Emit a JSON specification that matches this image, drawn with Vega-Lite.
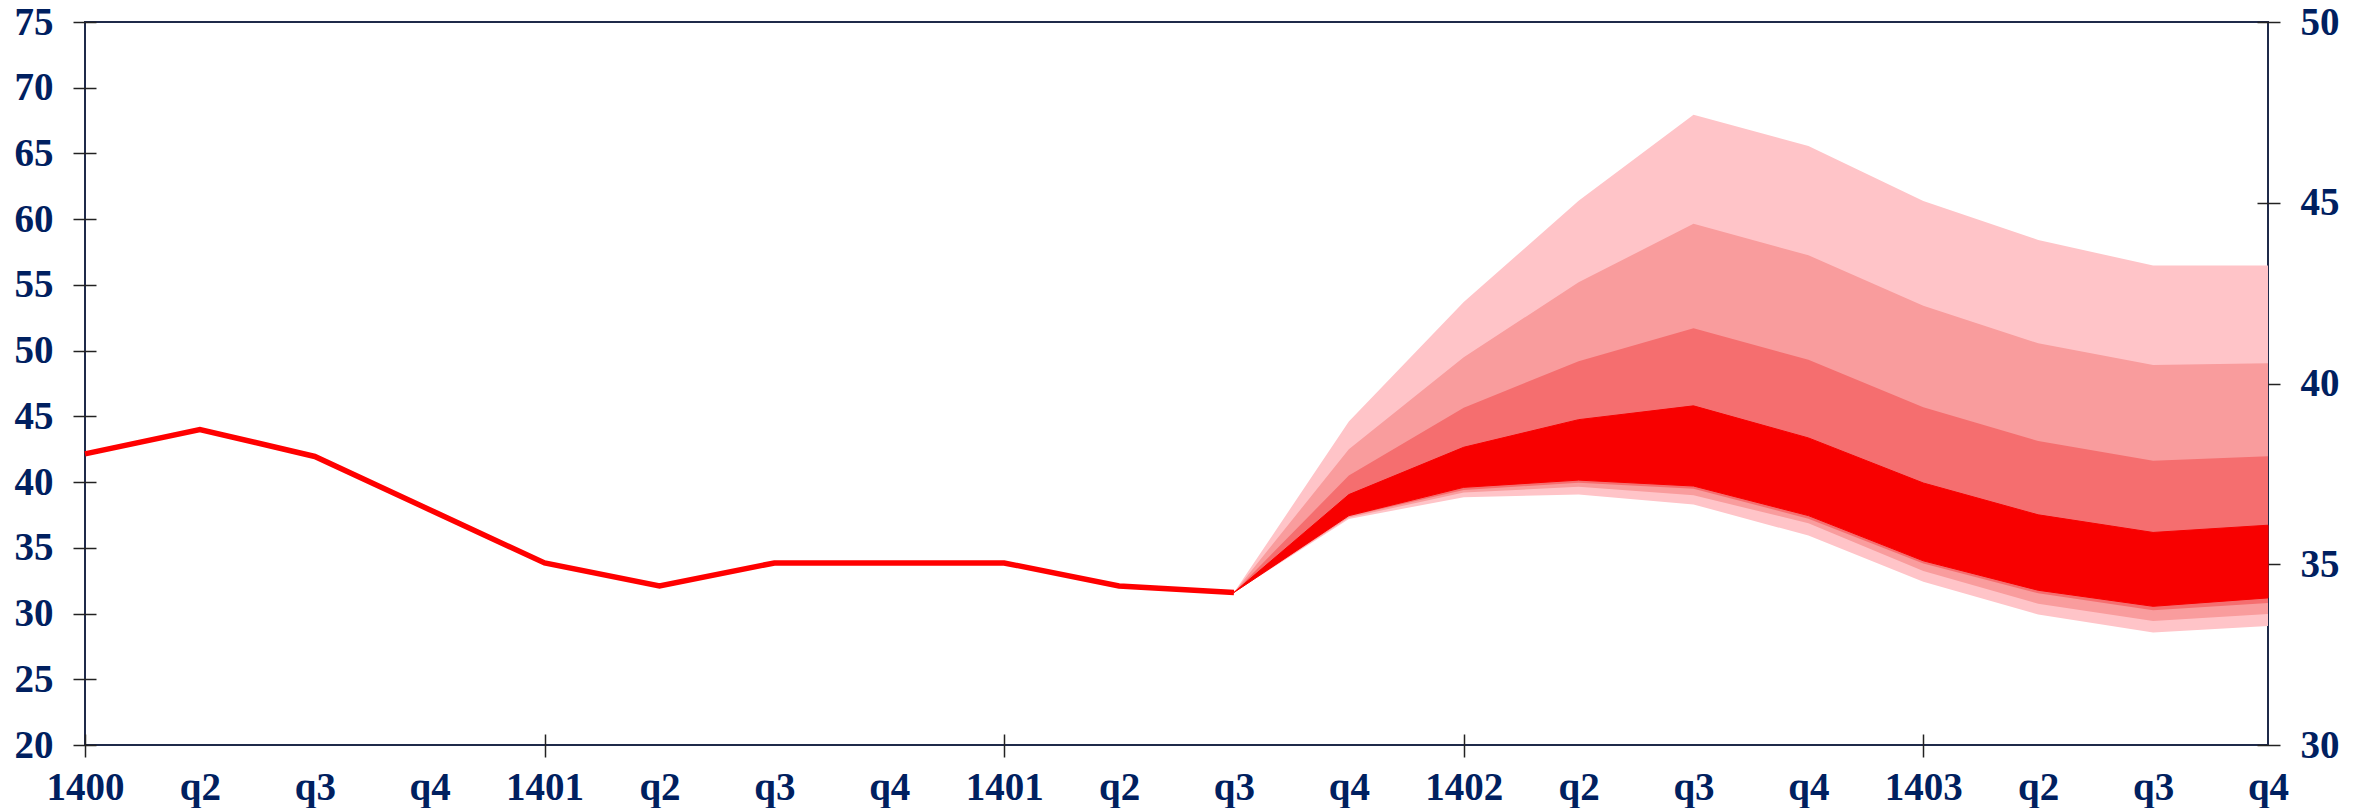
{
  "$schema": "https://vega.github.io/schema/vega-lite/v6.json",
  "width": 2183,
  "height": 723,
  "autosize": {"type": "none"},
  "padding": {"left": 85, "top": 22, "right": 96, "bottom": 63},
  "background": "white",
  "config": {
    "view": {"stroke": "#1F2A4A", "strokeWidth": 2},
    "axis": {
      "labelFont": "Liberation Serif",
      "labelFontWeight": "bold",
      "labelFontSize": 39,
      "labelColor": "#002060",
      "grid": false,
      "domain": false,
      "tickColor": "#222222",
      "tickWidth": 1.5,
      "title": null
    }
  },
  "data": {
    "values": [
      {"t": 0, "hist": 42.15},
      {"t": 1, "hist": 44.0},
      {"t": 2, "hist": 41.95},
      {"t": 3, "hist": 37.9},
      {"t": 4, "hist": 33.85},
      {"t": 5, "hist": 32.1},
      {"t": 6, "hist": 33.85},
      {"t": 7, "hist": 33.85},
      {"t": 8, "hist": 33.85},
      {"t": 9, "hist": 32.1},
      {"t": 10, "hist": 31.6, "lo1": 31.6, "hi1": 31.6, "lo2": 31.6, "hi2": 31.6, "lo3": 31.6, "hi3": 31.6, "lo4": 31.6, "hi4": 31.6},
      {"t": 11, "lo1": 37.2, "lo2": 37.3, "lo3": 37.4, "lo4": 37.45, "hi4": 39.05, "hi3": 40.5, "hi2": 42.5, "hi1": 44.6},
      {"t": 12, "lo1": 38.85, "lo2": 39.2, "lo3": 39.4, "lo4": 39.6, "hi4": 42.65, "hi3": 45.65, "hi2": 49.5, "hi1": 53.7},
      {"t": 13, "lo1": 39.05, "lo2": 39.65, "lo3": 39.95, "lo4": 40.15, "hi4": 44.75, "hi3": 49.2, "hi2": 55.2, "hi1": 61.4},
      {"t": 14, "lo1": 38.3, "lo2": 39.0, "lo3": 39.5, "lo4": 39.7, "hi4": 45.8, "hi3": 51.7, "hi2": 59.65, "hi1": 67.95},
      {"t": 15, "lo1": 35.93, "lo2": 36.87, "lo3": 37.22, "lo4": 37.45, "hi4": 43.36, "hi3": 49.31, "hi2": 57.26, "hi1": 65.56},
      {"t": 16, "lo1": 32.41, "lo2": 33.23, "lo3": 33.81, "lo4": 34.01, "hi4": 39.93, "hi3": 45.69, "hi2": 53.41, "hi1": 61.39},
      {"t": 17, "lo1": 29.93, "lo2": 30.75, "lo3": 31.54, "lo4": 31.77, "hi4": 37.51, "hi3": 43.13, "hi2": 50.56, "hi1": 58.42},
      {"t": 18, "lo1": 28.56, "lo2": 29.44, "lo3": 30.25, "lo4": 30.55, "hi4": 36.17, "hi3": 41.62, "hi2": 48.9, "hi1": 56.47},
      {"t": 19, "lo1": 29.06, "lo2": 29.96, "lo3": 30.81, "lo4": 31.19, "hi4": 36.72, "hi3": 41.96, "hi2": 49.04, "hi1": 56.47}
    ]
  },
  "layer": [
    {
      "encoding": {
        "x": {
          "field": "t",
          "type": "ordinal",
          "scale": {"type": "point", "padding": 0},
          "axis": {
            "orient": "bottom",
            "ticks": false,
            "tickSize": 0,
            "labelPadding": 23,
            "labelAngle": 0,
            "labelOverlap": false,
            "labelExpr": "['1400','q2','q3','q4','1401','q2','q3','q4','1401','q2','q3','q4','1402','q2','q3','q4','1403','q2','q3','q4'][datum.value]"
          }
        }
      },
      "layer": [
        {
          "mark": {"type": "area", "color": "#FFC4C8", "opacity": 1},
          "encoding": {
            "y": {
              "field": "lo1",
              "type": "quantitative",
              "stack": null,
              "scale": {"domain": [20, 75], "nice": false, "zero": false},
              "axis": {
                "orient": "left",
                "values": [20, 25, 30, 35, 40, 45, 50, 55, 60, 65, 70, 75],
                "offset": -11,
                "tickSize": 23,
                "labelPadding": 20
              }
            },
            "y2": {"field": "hi1"}
          }
        },
        {
          "mark": {"type": "area", "color": "#F99C9D", "opacity": 1},
          "encoding": {
            "y": {"field": "lo2", "type": "quantitative", "stack": null},
            "y2": {"field": "hi2"}
          }
        },
        {
          "mark": {"type": "area", "color": "#F56E6F", "opacity": 1},
          "encoding": {
            "y": {"field": "lo3", "type": "quantitative", "stack": null},
            "y2": {"field": "hi3"}
          }
        },
        {
          "mark": {"type": "area", "color": "#F80000", "opacity": 1, "stroke": "#F80000", "strokeWidth": 1},
          "encoding": {
            "y": {"field": "lo4", "type": "quantitative", "stack": null},
            "y2": {"field": "hi4"}
          }
        },
        {
          "mark": {"type": "line", "color": "#FF0000", "strokeWidth": 5.5, "strokeJoin": "miter"},
          "encoding": {
            "y": {"field": "hist", "type": "quantitative"}
          }
        }
      ]
    },
    {
      "mark": {"type": "line", "opacity": 0},
      "encoding": {
        "x": {
          "field": "t",
          "type": "ordinal",
          "scale": {"type": "point", "padding": 0},
          "axis": {
            "orient": "bottom",
            "values": [0, 4, 8, 12, 16],
            "labels": false,
            "offset": -11,
            "tickSize": 23
          }
        },
        "y": {
          "field": "hist",
          "type": "quantitative",
          "scale": {"domain": [30, 50], "nice": false, "zero": false},
          "axis": {
            "orient": "right",
            "values": [30, 35, 40, 45, 50],
            "offset": -11,
            "tickSize": 23,
            "labelPadding": 20
          }
        }
      }
    }
  ],
  "resolve": {"scale": {"y": "independent"}, "axis": {"x": "independent", "y": "independent"}}
}
